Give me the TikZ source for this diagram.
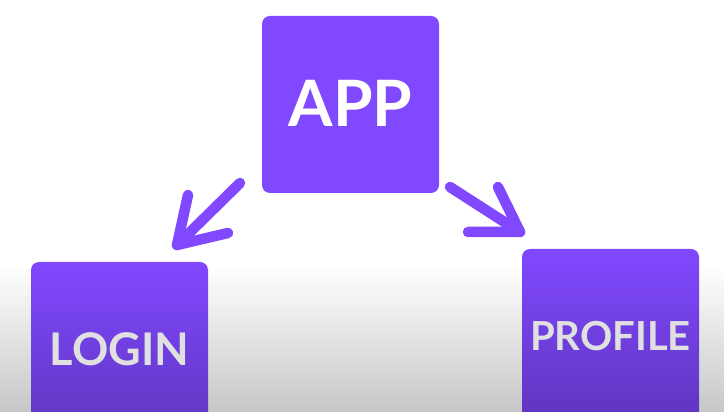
\documentclass[tikz,border=0pt]{standalone}
\usepackage{fontspec}
\setmainfont{Lato}
\definecolor{boxpurple}{RGB}{128,72,255}
\definecolor{boxdark}{RGB}{95,53,189}
\definecolor{bggray}{RGB}{199,199,199}
\definecolor{textgray}{RGB}{224,224,224}
\begin{document}
\begin{tikzpicture}[x=1pt,y=1pt,
  card/.style={minimum width=177pt,minimum height=177pt,inner sep=0pt,
    rounded corners=8pt,font=\bfseries},
  arrowline/.style={draw=boxpurple,line width=10.5pt,line cap=round,line join=round}]
\useasboundingbox (0,0) rectangle (724,412);
\fill[white] (0,0) rectangle (724,412);
\shade[top color=white,bottom color=bggray] (0,0) rectangle (724,147);
\node[card,fill=boxpurple,text=white,font=\bfseries\fontsize{64}{64}\selectfont]
  (app) at (350.5,307.5) {\raisebox{3pt}{APP}};
\node[card,top color=boxpurple,bottom color=boxdark,text=textgray,
  font=\bfseries\fontsize{45}{45}\selectfont]
  (login) at (119.5,61.5) {\raisebox{3pt}{LOGIN}};
\node[card,top color=boxpurple,bottom color=boxdark,text=textgray,
  font=\bfseries\fontsize{40}{40}\selectfont]
  (profile) at (610.5,74.5) {\raisebox{3pt}{PROFILE}};
% left arrow
\coordinate (ls) at (240,229);
\coordinate (lt) at (177,167);
\coordinate (lb1) at (188,217);
\coordinate (lb2) at (228,179);
\draw[arrowline] (ls) -- (lt);
\draw[arrowline] (lb1) -- (lt) -- (lb2);
% right arrow
\coordinate (rs) at (450,225);
\coordinate (rt) at (520,180);
\coordinate (rb1) at (498,225);
\coordinate (rb2) at (468,180);
\draw[arrowline] (rs) -- (rt);
\draw[arrowline] (rb1) -- (rt) -- (rb2);
\end{tikzpicture}
\end{document}
